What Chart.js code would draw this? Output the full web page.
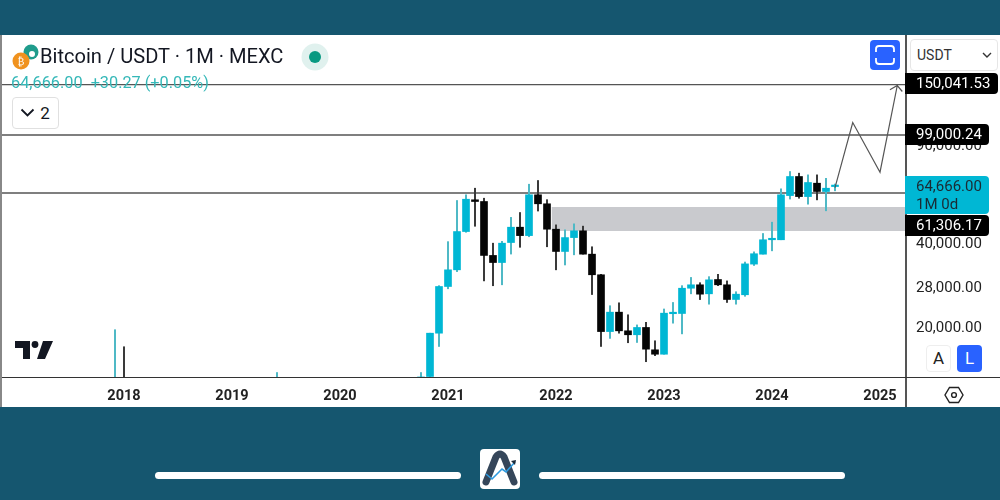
<!DOCTYPE html>
<html>
<head>
<meta charset="utf-8">
<title>Bitcoin / USDT</title>
<script src="https://cdn.jsdelivr.net/npm/chart.js@4/dist/chart.umd.min.js"></script>
<style>
    html, body { margin: 0; padding: 0; }
    body { width: 1000px; height: 500px; background: #15566f; position: relative; overflow: hidden; font-family: Roboto, sans-serif; }
    #panel { position: absolute; left: 0; top: 35px; width: 1000px; height: 372px; background: #fff; }
    #chart { position: absolute; left: 0; top: 35px; }
    .abs { position: absolute; white-space: nowrap; }
    .tag { position: absolute; left: 905px; color: #fff; background: #000; font-size: 15px; line-height: 21px; padding-left: 11px; border-radius: 0 4px 4px 0; box-sizing: border-box; }
    .rule { position: absolute; background: #555; }
    .btn { position: absolute; box-sizing: border-box; border-radius: 4px; text-align: center; }
</style>
</head>
<body>
<div id="panel"></div>
<canvas id="chart" width="1000" height="372"></canvas>

<div class="rule" style="left:905px;top:35px;width:1.5px;height:372px"></div>
<div class="rule" style="left:0;top:377px;width:1000px;height:1px;background:#333"></div>
<div class="rule" style="left:0;top:35px;width:1.5px;height:372px;background:#888"></div>

<svg class="abs" style="left:0;top:35px" width="60" height="40">
    <circle cx="31" cy="17" r="7.5" fill="#1f9c8c"/>
    <circle cx="32" cy="19" r="3" fill="#fff"/>
    <circle cx="21" cy="26" r="8.5" fill="#f0921e"/>
    <text x="21" y="30" font-size="10" fill="#fff" text-anchor="middle" font-family="Roboto">₿</text>
</svg>
<div class="abs" style="left:40px;top:43px;font-size:20.1px;line-height:26px;color:#131722">Bitcoin / USDT · 1M · MEXC</div>
<div class="abs" style="left:11px;top:73px;font-size:16.3px;line-height:20px;color:#35b8b8">64,666.00&nbsp; +30.27 (+0.05%)</div>
<svg class="abs" style="left:300px;top:42px" width="30" height="30">
    <circle cx="15" cy="15" r="13.5" fill="#e0f1ee"/>
    <circle cx="15" cy="15" r="6" fill="#089981"/>
</svg>
<div class="btn" style="left:12px;top:97px;width:47px;height:32px;border:1px solid #e0e0e0;background:#fff;font-size:17px;line-height:30px;color:#131722;padding-left:19px">2</div>
<svg class="abs" style="left:20px;top:108px" width="16" height="10"><path d="M1.5 1.5 L7.5 7.5 L13.5 1.5" fill="none" stroke="#131722" stroke-width="1.8"/></svg>

<div class="btn" style="left:870px;top:40px;width:30px;height:30px;background:#2962ff"></div>
<svg class="abs" style="left:870px;top:40px" width="30" height="30"><path d="M6 12 V9 Q6 6 9 6 H21 Q24 6 24 9 V12 M6 18 V21 Q6 24 9 24 H21 Q24 24 24 21 V18" fill="none" stroke="#fff" stroke-width="1.8"/></svg>
<div class="btn" style="left:910px;top:39px;width:88px;height:32px;border:1px solid #e6e6e6;background:#fff;font-size:14px;line-height:30px;color:#333;text-align:left;padding-left:6px">USDT</div>
<svg class="abs" style="left:982px;top:52px" width="10" height="7"><path d="M1 1 L5 5 L9 1" fill="none" stroke="#333" stroke-width="1.4"/></svg>

<div class="tag" style="top:73px;width:93px;height:21px">150,041.53</div>
<div class="tag" style="top:124px;width:84px;height:21px">99,000.24</div>
<div class="tag" style="top:176px;width:84px;height:38px;background:#00b7d4;color:#1a2a33;line-height:17.5px;padding-top:2px">64,666.00<br>1M 0d</div>
<div class="tag" style="top:215px;width:84px;height:21px">61,306.17</div>

<svg class="abs" style="left:0;top:335px" width="60" height="30">
    <path d="M15 6 H30 V24 H23 V13 H15 Z M43 6 H53 L45 24 H37 Z" fill="#131722"/>
    <circle cx="35" cy="9.5" r="3.4" fill="#131722"/>
</svg>
<div class="btn" style="left:926px;top:345px;width:25px;height:27px;border:1px solid #eee;background:#fff;font-size:17px;line-height:25px;color:#222">A</div>
<div class="btn" style="left:957px;top:345px;width:25px;height:27px;background:#2962ff;font-size:17px;line-height:27px;color:#fff">L</div>
<svg class="abs" style="left:944px;top:386px" width="20" height="18">
    <path d="M5.5 1.5 H14.5 L19 9 L14.5 16.5 H5.5 L1 9 Z" fill="none" stroke="#222" stroke-width="1.4"/>
    <circle cx="10" cy="9" r="2.4" fill="none" stroke="#222" stroke-width="1.4"/>
</svg>

<div class="abs" style="left:155px;top:472px;width:306px;height:7px;background:#fff;border-radius:4px"></div>
<div class="abs" style="left:539px;top:472px;width:306px;height:7px;background:#fff;border-radius:4px"></div>
<svg class="abs" style="left:480px;top:449px" width="40" height="40">
    <rect width="40" height="40" rx="4" fill="#fff"/>
    <path d="M6 33 L16 8 Q20 2 24 8 L34 33" fill="none" stroke="#35465a" stroke-width="7" stroke-linecap="round"/>
    <path d="M6 25 L12 30 L22 20 L26 23 L35 13" fill="none" stroke="#2e9be0" stroke-width="1.6"/>
    <path d="M31 12 L36 11 L35 16 Z" fill="#1a2a3a"/>
</svg>

<script>
// monthly candles (only months that show above the bottom of the chart)
const months = ['2017-12', '2018-01', '2019-06', '2020-10', '2020-11', '2020-12',
    '2021-01', '2021-02', '2021-03', '2021-04', '2021-05', '2021-06', '2021-07', '2021-08', '2021-09', '2021-10', '2021-11', '2021-12',
    '2022-01', '2022-02', '2022-03', '2022-04', '2022-05', '2022-06', '2022-07', '2022-08', '2022-09', '2022-10', '2022-11', '2022-12',
    '2023-01', '2023-02', '2023-03', '2023-04', '2023-05', '2023-06', '2023-07', '2023-08', '2023-09', '2023-10', '2023-11', '2023-12',
    '2024-01', '2024-02', '2024-03', '2024-04', '2024-05', '2024-06', '2024-07', '2024-08'];
const opens = [9900, 12900, 8500, 10800, 13450, 19240,
    28300, 32480, 44570, 57940, 57130, 36580, 34500, 40700, 46200, 43100, 60380, 56060,
    45440, 37800, 42400, 44840, 36970, 31180, 19500, 22890, 19620, 18990, 20170, 16770,
    16170, 22600, 22640, 27900, 28700, 26640, 29980, 28700, 25420, 26430, 34050, 36960,
    41640, 41640, 60000, 70240, 59500, 66460, 62060, 64636];
const highs = [19800, 17200, 13900, 13900, 19240, 28500,
    41000, 57600, 60380, 63760, 58700, 40480, 41100, 50100, 52160, 65900, 67960, 58000,
    47100, 45200, 47500, 46600, 39300, 31300, 24140, 24730, 22400, 20600, 21050, 18070,
    23500, 24800, 28500, 30500, 29200, 30700, 31300, 29640, 27100, 34640, 37680, 43860,
    48150, 63440, 73200, 72200, 71200, 71200, 69200, 66000];
const lows = [9400, 9000, 7400, 10500, 13300, 17240,
    27770, 32000, 44300, 46560, 29640, 28480, 28700, 37000, 39130, 42700, 52800, 39300,
    32480, 33810, 36770, 36970, 26480, 17240, 18430, 19240, 17780, 17820, 15200, 15980,
    16170, 20900, 19130, 26640, 25400, 24450, 28500, 24800, 24450, 26100, 33660, 37000,
    38000, 41640, 58300, 58700, 55880, 57900, 52900, 62400];
const closes = [12900, 10200, 10800, 13400, 19240, 28300,
    32480, 44570, 58220, 57130, 36580, 34500, 40480, 46200, 43100, 60380, 56060, 45440,
    37800, 42400, 44840, 36970, 31180, 19500, 22890, 19620, 18990, 20170, 16860, 16170,
    22700, 22700, 27900, 28700, 26560, 29900, 28700, 25420, 26560, 34120, 37100, 41640,
    41980, 60380, 70240, 59500, 66840, 62060, 63760, 64666];

// axis
const yearLabels = ['2018', '2019', '2020', '2021', '2022', '2023', '2024', '2025'];
const priceTicks = [20000, 28000, 40000, 90000];

// drawn levels and the zone
const levels = [150041.53, 99000.24, 61306.17];
const zoneTop = 54600;
const zoneBottom = 44800;
const zoneStart = '2021-12';

// hand drawn arrow on the right, month offsets from Jan 2018 and prices
const arrowX = [79, 80.97, 84, 85.92, 85.1, 85.92, 86.48];
const arrowY = [64100, 109700, 72800, 149000, 143800, 149000, 141800];

const CYAN = '#00b7d4';
const CYAN_WICK = '#4fb9c6';
const BLACK = '#050505';
const BLACK_WICK = '#3a3a3a';
const X_MIN = -124 / 9;
const X_MAX = (905 - 124) / 9;

// months since Jan 2018
function monthIndex(m) {
    const parts = m.split('-');
    return (parseInt(parts[0]) - 2018) * 12 + parseInt(parts[1]) - 1;
}

const isUp = closes.map(function (c, i) { return c >= opens[i]; });
const bodies = months.map(function (m, i) { return { x: monthIndex(m), y: [opens[i], closes[i]] }; });
const wicks = months.map(function (m, i) { return { x: monthIndex(m), y: [lows[i], highs[i]] }; });

const levelSets = levels.map(function (v) {
    return {
        type: 'line',
        data: [{ x: X_MIN, y: v }, { x: X_MAX, y: v }],
        borderColor: '#555',
        borderWidth: 1.4,
        pointRadius: 0,
        order: 4
    };
});

new Chart(document.getElementById('chart').getContext('2d'), {
    data: {
        datasets: [
            {
                type: 'bar',
                data: bodies,
                backgroundColor: isUp.map(function (u) { return u ? CYAN : BLACK; }),
                barThickness: 7,
                minBarLength: 1.5,
                grouped: false,
                order: 1
            },
            {
                type: 'bar',
                data: wicks,
                backgroundColor: isUp.map(function (u) { return u ? CYAN_WICK : BLACK_WICK; }),
                barThickness: 1.4,
                grouped: false,
                order: 2
            },
            {
                type: 'line',
                data: [{ x: monthIndex(zoneStart) + 0.5, y: zoneTop }, { x: X_MAX, y: zoneTop }],
                borderWidth: 0,
                pointRadius: 0,
                backgroundColor: '#c9cace',
                fill: { target: { value: zoneBottom } },
                order: 5
            },
            {
                type: 'line',
                data: arrowX.map(function (x, i) { return { x: x, y: arrowY[i] }; }),
                borderColor: '#555',
                borderWidth: 1.2,
                pointRadius: 0,
                order: 0
            }
        ].concat(levelSets)
    },
    options: {
        responsive: false,
        animation: false,
        layout: { padding: 0 },
        plugins: { legend: { display: false }, tooltip: { enabled: false } },
        scales: {
            x: {
                type: 'linear',
                offset: false,
                bounds: 'data',
                min: X_MIN,
                max: X_MAX,
                grid: { display: false, offset: false },
                border: { display: false },
                afterFit: function (axis) {
                    axis.height = 30;
                    axis.paddingLeft = 0;
                    axis.paddingRight = 0;
                },
                afterBuildTicks: function (axis) {
                    axis.ticks = yearLabels.map(function (y) { return { value: (parseInt(y) - 2018) * 12 }; });
                },
                ticks: {
                    autoSkip: false,
                    maxRotation: 0,
                    padding: 3,
                    color: '#222',
                    font: { family: 'Roboto', size: 14.5, weight: 'bold' },
                    callback: function (v) { return String(2018 + v / 12); }
                }
            },
            y: {
                type: 'logarithmic',
                position: 'right',
                bounds: 'data',
                min: 13395,
                max: 226200,
                grid: { display: false },
                border: { display: false },
                afterFit: function (axis) {
                    axis.width = 95;
                    axis.paddingTop = 0;
                    axis.paddingBottom = 0;
                },
                afterBuildTicks: function (axis) {
                    axis.ticks = priceTicks.map(function (v) { return { value: v }; });
                },
                ticks: {
                    padding: 3,
                    color: '#222',
                    font: { family: 'Roboto', size: 15 },
                    callback: function (v) {
                        return v.toLocaleString('en-US', { minimumFractionDigits: 2, maximumFractionDigits: 2 });
                    }
                }
            }
        }
    }
});
</script>
</body>
</html>
